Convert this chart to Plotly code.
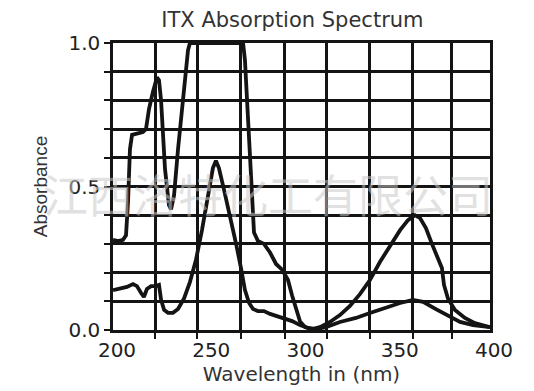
import plotly.graph_objects as go

# Curve with saturated plateau (concentrated sample)
wl_a = [200, 202.7, 205.3, 206.9, 208.0, 209.0, 210.1, 212.7, 215.9, 217.5, 219.1, 221.2, 223.3,
        224.4, 225.5, 227.6, 229.7, 230.8, 232.4, 234.5, 237.1, 239.8, 240.8, 269.0, 270.0, 271.6,
        273.2, 274.8, 276.9, 280.1, 283.3, 286.5, 289.7, 292.8, 295.0, 297.1, 299.2, 301.9, 305.6,
        309.8, 315.1, 320.4, 325.7, 331.0, 336.3, 341.6, 347.0, 352.3, 356.5, 360.2, 362.9, 366.0,
        369.2, 372.4, 374.5, 375.6, 377.7, 381.4, 386.7, 392.0, 400]
abs_a = [0.314, 0.31, 0.314, 0.33, 0.45, 0.63, 0.68, 0.686, 0.69, 0.70, 0.77, 0.83, 0.88,
         0.87, 0.80, 0.56, 0.435, 0.42, 0.47, 0.63, 0.80, 0.975, 1.0, 1.0, 0.94, 0.73,
         0.49, 0.34, 0.31, 0.30, 0.27, 0.23, 0.21, 0.175, 0.12, 0.07, 0.03, 0.01, 0.003,
         0.01, 0.028, 0.052, 0.084, 0.125, 0.174, 0.237, 0.296, 0.348, 0.383, 0.40, 0.39, 0.355,
         0.30, 0.25, 0.216, 0.157, 0.11, 0.07, 0.042, 0.024, 0.01]

# Dilute sample curve
wl_b = [200, 203.7, 207.4, 210.6, 212.7, 214.9, 216.4, 218.0, 220.2, 222.8, 224.4, 225.5, 227.1,
        229.2, 231.8, 234.5, 237.7, 240.8, 244.0, 247.2, 250.4, 253.0, 254.6, 256.2, 258.9, 262.1,
        265.3, 267.9, 270.0, 272.2, 274.3, 276.9, 280.1, 283.3, 286.5, 290.7, 295.0, 299.2, 303.4,
        307.7, 313.0, 320.4, 328.9, 336.3, 344.3, 352.3, 359.1, 364.5, 371.3, 377.7, 384.1, 391.0, 400]
abs_b = [0.139, 0.143, 0.15, 0.16, 0.153, 0.129, 0.115, 0.143, 0.153, 0.153, 0.157, 0.105, 0.07,
         0.06, 0.06, 0.073, 0.11, 0.167, 0.244, 0.348, 0.47, 0.564, 0.59, 0.564, 0.488, 0.40,
         0.30, 0.216, 0.139, 0.094, 0.073, 0.066, 0.066, 0.056, 0.049, 0.042, 0.031, 0.017, 0.007,
         0.003, 0.01, 0.028, 0.042, 0.059, 0.077, 0.094, 0.105, 0.098, 0.073, 0.049, 0.028, 0.017, 0.01]

x_labels = [200, 250, 300, 350, 400]
x_grid = [222.3, 244.6, 267.9, 291.2, 313.5, 336.3, 359.1, 379.8]
y_ticks = [0.0, 0.1, 0.2, 0.3, 0.4, 0.5, 0.6, 0.7, 0.8, 0.9, 1.0]
y_text = ["0.0", "", "", "", "", "0.5", "", "", "", "", "1.0"]

title = "ITX Absorption Spectrum"
x_title = "Wavelength in (nm)"
y_title = "Absorbance"
watermark = "江西洛特化工有限公司"

ink = "#141414"
fig = go.Figure()
for xs, ys in [(wl_a, abs_a), (wl_b, abs_b)]:
    fig.add_trace(go.Scatter(x=xs, y=ys, mode="lines",
                             line=dict(color=ink, width=3.8), showlegend=False,
                             hoverinfo="skip"))

fig.update_layout(
    width=534, height=391,
    margin=dict(l=113, r=44, t=43, b=61),
    paper_bgcolor="white", plot_bgcolor="white",
    title=dict(text=title, x=0.476, xref="paper", y=1 - 20 / 391, yref="container",
               xanchor="center", yanchor="middle",
               font=dict(family="DejaVu Sans", size=21, color="#333333")),
    xaxis=dict(range=[200, 400], tickmode="array", tickvals=x_labels, ticks="",
               ticklabelshift=4,
               showgrid=False, zeroline=False, showline=True, linecolor=ink,
               linewidth=2.5, mirror=True,
               tickfont=dict(family="DejaVu Sans", size=20, color="#222222"),
               minor=dict(tickmode="array", tickvals=x_grid, showgrid=True,
                          gridcolor=ink, gridwidth=2.5, ticks="outside",
                          ticklen=6, tickwidth=2, tickcolor=ink),
               title=dict(text=x_title, standoff=4,
                          font=dict(family="DejaVu Sans", size=20, color="#333333"))),
    yaxis=dict(range=[0, 1], tickmode="array", tickvals=y_ticks, ticktext=y_text,
               ticks="outside", ticklen=6, tickwidth=2, tickcolor=ink,
               showgrid=True, gridcolor=ink, gridwidth=2.5, zeroline=False,
               showline=True, linecolor=ink, linewidth=2.5, mirror=True,
               tickfont=dict(family="DejaVu Sans", size=20, color="#222222"),
               title=dict(text=y_title, standoff=16,
                          font=dict(family="Liberation Sans", size=19, color="#333333"))),
    annotations=[dict(text=watermark, xref="paper", yref="paper", x=0.41, y=0.477,
                      xanchor="center", yanchor="middle", showarrow=False,
                      font=dict(family="Noto Sans CJK SC", size=45,
                                color="rgba(200,200,200,0.55)"))],
)

fig.write_html("out.html", config={"displayModeBar": False},
               post_script="document.body.style.margin='0';")
